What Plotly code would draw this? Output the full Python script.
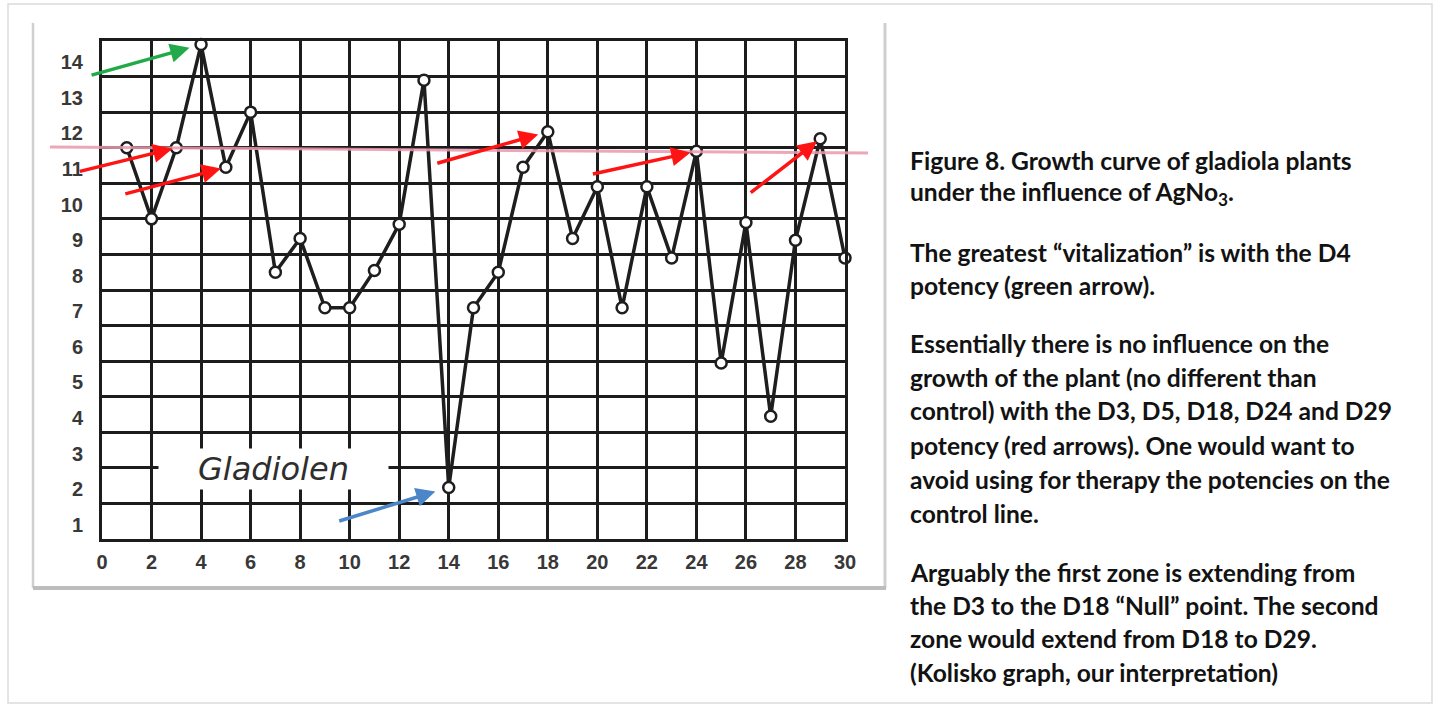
import plotly.graph_objects as go

# ---------------- data ----------------
potency = list(range(1, 31))
growth = [11.6, 9.6, 11.6, 14.5, 11.05, 12.6, 8.1, 9.05, 7.1, 7.1,
          8.15, 9.45, 13.5, 2.05, 7.1, 8.1, 11.05, 12.05, 9.05, 10.5,
          7.1, 10.5, 8.5, 11.5, 5.55, 9.5, 4.05, 9.0, 11.85, 8.5]
control_level = [11.62, 11.45]          # control line, left end / right end
x_tick_vals = list(range(0, 31, 2))
x_tick_text = [str(v) for v in x_tick_vals]
y_tick_vals = list(range(1, 15))
y_tick_text = [str(v) for v in y_tick_vals]
green_targets = [4]
red_targets = [3, 5, 18, 24, 29]
blue_targets = [14]
chart_label = "Gladiolen"
caption_lines = [
    "Figure 8. Growth curve of gladiola plants",
    "under the influence of AgNo<sub>3</sub>.",
    "The greatest \u201cvitalization\u201d is with the D4",
    "potency (green arrow).",
    "Essentially there is no influence on the",
    "growth of the plant (no different than",
    "control) with the D3, D5, D18, D24 and D29",
    "potency (red arrows). One would want to",
    "avoid using for therapy the potencies on the",
    "control line.",
    "Arguably the first zone is extending from",
    "the D3 to the D18 \u201cNull\u201d point. The second",
    "zone would extend from D18 to D29.",
    "(Kolisko graph, our interpretation)",
]

# ---------------- layout geometry (pixels) ----------------
FIG_W, FIG_H = 1438, 706
L, T, W, H = 102, 41, 743, 498
GRID_OFFSET = 0.6


def px_x(px):
    return (px - L) / W


def px_y(py):
    return (T + H - py) / H


fig = go.Figure()
fig.add_trace(go.Scatter(
    x=potency, y=growth, mode="lines+markers",
    line=dict(color="#1e1e1e", width=3.5),
    marker=dict(symbol="circle", size=11, color="white",
                line=dict(color="#1e1e1e", width=2.5)),
    showlegend=False, hoverinfo="x+y", cliponaxis=False,
))

axis_font = dict(family="Liberation Sans", size=20, color="#383838", weight="bold")
grid_col = "#1c1c1c"

fig.update_xaxes(
    range=[0, 30], tickmode="array", tickvals=x_tick_vals, ticktext=x_tick_text,
    showgrid=True, gridcolor=grid_col, gridwidth=2.5,
    showline=True, mirror=True, linecolor=grid_col, linewidth=3,
    zeroline=False, ticks="", tickfont=axis_font, ticklabelstandoff=3,
)
grid_y = [GRID_OFFSET + k for k in range(0, 15)]
fig.update_yaxes(
    range=[grid_y[0], grid_y[-1]], tickmode="array", tickvals=y_tick_vals,
    ticktext=y_tick_text, showgrid=False,
    minor=dict(tickmode="array", tickvals=grid_y, showgrid=True,
               gridcolor=grid_col, gridwidth=2.5, ticks=""),
    showline=True, mirror=True, linecolor=grid_col, linewidth=3,
    zeroline=False, ticks="", tickfont=axis_font, ticklabelstandoff=12,
)

shapes = []
# outer page frame
shapes.append(dict(type="rect", xref="paper", yref="paper",
                   x0=px_x(8), x1=px_x(1432), y0=px_y(703), y1=px_y(4),
                   line=dict(color="#dcdcdc", width=1.5), layer="below"))
# inner scan frame (left, right, bottom shadow)
shapes.append(dict(type="line", xref="paper", yref="paper",
                   x0=px_x(33), x1=px_x(33), y0=px_y(23), y1=px_y(588),
                   line=dict(color="#cfcfcf", width=2.5), layer="below"))
shapes.append(dict(type="line", xref="paper", yref="paper",
                   x0=px_x(885), x1=px_x(885), y0=px_y(23), y1=px_y(588),
                   line=dict(color="#cfcfcf", width=3), layer="below"))
shapes.append(dict(type="line", xref="paper", yref="paper",
                   x0=px_x(33), x1=px_x(886), y0=px_y(588), y1=px_y(588),
                   line=dict(color="#bdbdbd", width=4), layer="below"))
# control line (pink)
shapes.append(dict(type="line", xref="paper", yref="y",
                   x0=px_x(50), x1=px_x(868),
                   y0=control_level[0], y1=control_level[1],
                   line=dict(color="#e99aae", width=3), opacity=0.85, layer="above"))

annotations = []
arrow_specs = [
    (green_targets, "#22a94a", [(-111, 31, 12)]),
    (red_targets, "#ff1414", [(-98, 24, 4), (-102, 27, 5), (-112, 32, 10),
                              (-105, 23, 6), (-71, 55, 4)]),
    (blue_targets, "#4a86c8", [(-111, 34, 14)]),
]
for targets, col, offs in arrow_specs:
    for p, (ax, ay, so) in zip(targets, offs):
        annotations.append(dict(
            x=p, y=growth[potency.index(p)], xref="x", yref="y",
            ax=ax, ay=ay, text="", showarrow=True, arrowhead=2,
            arrowsize=1.1, arrowwidth=3.5, arrowcolor=col, standoff=so,
        ))

annotations.append(dict(
    x=px_x(273), y=px_y(469), xref="paper", yref="paper",
    text="<i>" + chart_label + "</i>", showarrow=False,
    font=dict(family="DejaVu Sans", size=32, color="#2e2e2e"),
    bgcolor="white", width=227, height=38, xanchor="center", yanchor="middle",
))

line_y = [160, 193, 252, 285, 343, 377, 410, 445, 479, 513, 572, 605, 638, 672]
for txt, ly in zip(caption_lines, line_y):
    annotations.append(dict(
        x=px_x(908), y=px_y(ly), xref="paper", yref="paper",
        text=txt, showarrow=False, xanchor="left", yanchor="middle",
        font=dict(family="Lato", size=24.6, color="#121212", weight="bold"),
    ))

fig.update_layout(
    width=FIG_W, height=FIG_H, autosize=False,
    margin=dict(l=L, r=FIG_W - L - W, t=T, b=FIG_H - T - H, pad=0),
    paper_bgcolor="white", plot_bgcolor="white",
    shapes=shapes, annotations=annotations, showlegend=False,
)

fig.write_html("out.html", config={"displayModeBar": False},
               post_script="document.body.style.margin='0px';")
